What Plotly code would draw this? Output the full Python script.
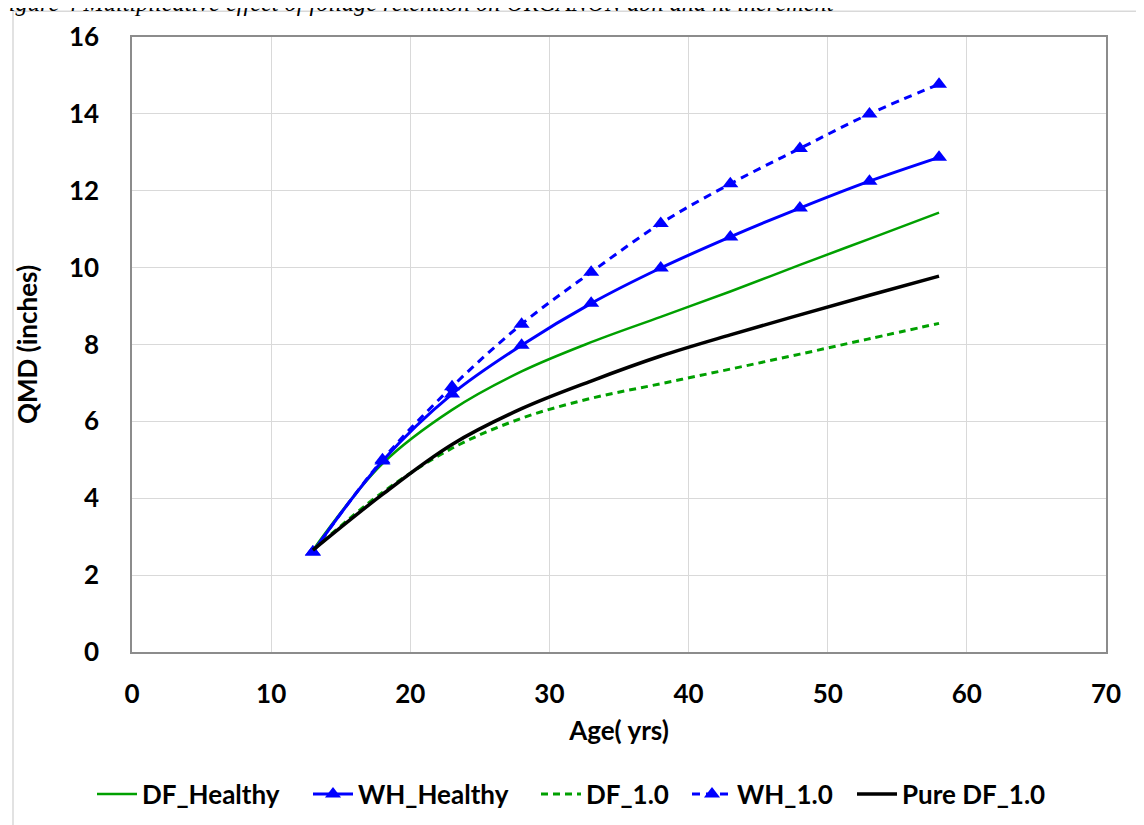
import plotly.graph_objects as go

age = [13, 18, 23, 28, 33, 38, 43, 48, 53, 58]
df_healthy = [2.65, 4.9, 6.3, 7.3, 8.06, 8.72, 9.38, 10.07, 10.75, 11.43]
wh_healthy = [2.6, 4.97, 6.71, 7.98, 9.07, 9.99, 10.8, 11.55, 12.25, 12.87]
df_10 = [2.65, 4.15, 5.3, 6.08, 6.6, 6.98, 7.36, 7.75, 8.15, 8.55]
wh_10 = [2.6, 5.0, 6.9, 8.53, 9.88, 11.15, 12.18, 13.1, 14.0, 14.77]
pure_df_10 = [2.65, 4.1, 5.4, 6.33, 7.05, 7.7, 8.25, 8.77, 9.28, 9.78]

x_ticks = [0, 10, 20, 30, 40, 50, 60, 70]
y_ticks = [0, 2, 4, 6, 8, 10, 12, 14, 16]

GREEN = "#00A000"
BLUE = "#0000FF"
FONT = "Lato"
FS = 26

OFF = 8  # page body margin
W, H = 1144 - OFF, 825 - OFF
L, R, T, B = 132 - OFF, 1106 - OFF, 34 - OFF, 652 - OFF
pw, ph = R - L, B - T

def px_x(p):
    return (p - OFF - L) / pw

def px_y(p):
    return (B - (p - OFF)) / ph

def cx(p):
    return (p - OFF) / W

def cy(p):
    return 1 - (p - OFF) / H

fig = go.Figure()
fig.add_trace(go.Scatter(x=age, y=df_healthy, name="DF_Healthy", mode="lines", legend="legend",
                         line=dict(color=GREEN, width=2.5, shape="spline")))
fig.add_trace(go.Scatter(x=age, y=wh_healthy, name="WH_Healthy", mode="lines+markers", legend="legend2",
                         line=dict(color=BLUE, width=3, shape="spline"),
                         marker=dict(symbol="triangle-up", size=14, color=BLUE)))
fig.add_trace(go.Scatter(x=age, y=df_10, name="DF_1.0", mode="lines", legend="legend3",
                         line=dict(color=GREEN, width=3, dash="7px,5px", shape="spline")))
fig.add_trace(go.Scatter(x=age, y=wh_10, name="WH_1.0", mode="lines+markers", legend="legend4",
                         line=dict(color=BLUE, width=3, dash="8px,6px", shape="spline"),
                         marker=dict(symbol="triangle-up", size=14, color=BLUE)))
fig.add_trace(go.Scatter(x=age, y=pure_df_10, name="Pure DF_1.0", mode="lines", legend="legend5",
                         line=dict(color="black", width=3.5, shape="spline")))

text_starts = [143, 359, 587, 738, 903]
legends = {}
for i, ts in enumerate(text_starts):
    key = "legend" if i == 0 else f"legend{i + 1}"
    legends[key] = dict(orientation="h", xref="container", yref="container",
                        x=cx(ts - 51), xanchor="left", y=cy(794), yanchor="middle",
                        font=dict(family=FONT, size=FS, color="black", weight="bold"),
                        bgcolor="rgba(0,0,0,0)", itemwidth=40)

fig.update_layout(
    width=W, height=H,
    margin=dict(l=L, r=W - R, t=T, b=H - B),
    paper_bgcolor="white", plot_bgcolor="white",
    font=dict(family=FONT, color="black", size=FS),
    showlegend=True,
    xaxis=dict(range=[0, 70], tickvals=x_ticks, ticktext=[str(v) for v in x_ticks],
               showgrid=True, gridcolor="#d9d9d9", gridwidth=1,
               showline=True, linecolor="#8c8c8c", linewidth=1.5, mirror=True,
               zeroline=False, ticks="", ticklabelstandoff=18,
               tickfont=dict(family=FONT, size=FS, weight="bold"),
               title=dict(text="Age( yrs)", font=dict(family=FONT, size=FS, weight="bold"),
                          standoff=14)),
    yaxis=dict(range=[0, 16], tickvals=y_ticks, ticktext=[str(v) for v in y_ticks],
               showgrid=True, gridcolor="#d9d9d9", gridwidth=1,
               showline=True, linecolor="#8c8c8c", linewidth=1.5, mirror=True,
               zeroline=False, ticks="", ticklabelstandoff=26,
               tickfont=dict(family=FONT, size=FS, weight="bold"),
               title=dict(text="QMD (inches)", font=dict(family=FONT, size=FS, weight="bold"),
                          standoff=24)),
    shapes=[dict(type="rect", xref="paper", yref="paper",
                 x0=px_x(13), x1=px_x(1139), y0=px_y(840), y1=px_y(8),
                 line=dict(color="#d9d9d9", width=1.5), fillcolor="rgba(0,0,0,0)", layer="below")],
    annotations=[dict(text="Figure 4 Multiplicative effect of foliage retention on ORGANON dbh and ht increment",
                      xref="paper", yref="paper", x=px_x(-9), y=px_y(-1), xanchor="left", yanchor="middle",
                      showarrow=False,
                      font=dict(family="Liberation Serif", size=24.3, style="italic", color="black"))],
    **legends,
)

fig.write_html("out.html")
